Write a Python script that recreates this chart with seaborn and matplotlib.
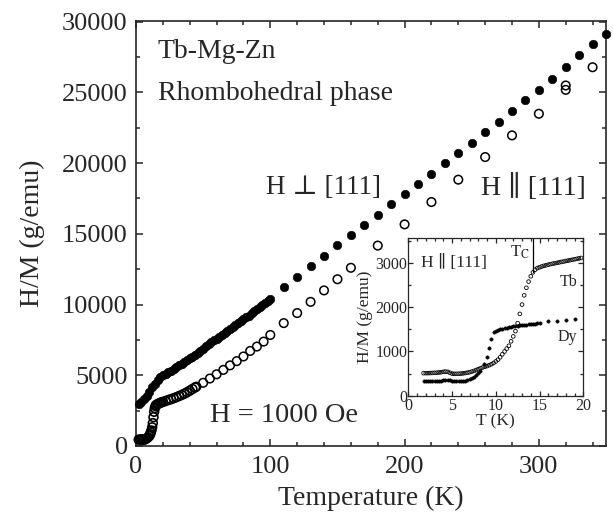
import matplotlib
matplotlib.use("Agg")
import matplotlib.pyplot as plt
import matplotlib.transforms as mtransforms
import seaborn as sns
import pandas as pd
from matplotlib.ticker import MultipleLocator

# ---------------- data ----------------
# H perpendicular [111] (filled circles), dense low-T part
T_perp_dense = [2, 4, 6, 8, 10, 12, 14, 16, 18, 20, 22, 24, 26, 28, 30, 32, 34, 36, 38, 40,
                42, 44, 46, 48, 50, 52, 54, 56, 58, 60, 62, 64, 66, 68, 70, 72, 74, 76, 78, 80,
                82, 84, 86, 88, 90, 92, 94, 96, 98, 100]
HM_perp_dense = [3000, 3100, 3300, 3550, 3850, 4150, 4400, 4650, 4850, 5000, 5100, 5210, 5330,
                 5450, 5580, 5710, 5830, 5950, 6080, 6200, 6320, 6450, 6580, 6730, 6880, 7040,
                 7200, 7330, 7460, 7590, 7710, 7850, 7990, 8120, 8260, 8400, 8550, 8700, 8830,
                 8960, 9090, 9220, 9370, 9530, 9680, 9830, 9980, 10120, 10270, 10420]
T_perp_sparse = [110, 120, 130, 140, 150, 160, 170, 180, 190, 200, 210, 220, 230, 240, 250,
                 260, 270, 280, 290, 300, 310, 320, 330, 340, 350]
HM_perp_sparse = [11260, 11950, 12700, 13420, 14180, 14930, 15650, 16360, 17080, 17840, 18530,
                  19250, 19990, 20700, 21420, 22190, 22900, 23650, 24430, 25180, 25960, 26780,
                  27650, 28430, 29140]

# H parallel [111] (open circles)
T_par_dense = [2, 3, 4, 5, 6, 7, 8, 9, 10, 10.5, 11, 11.5, 12, 12.5, 13, 13.5, 14, 14.5, 15,
               16, 17, 18, 19, 20, 22, 24, 26, 28, 30, 32, 34, 36, 38, 40, 42, 44]
HM_par_dense = [450, 450, 470, 450, 450, 480, 540, 620, 720, 830, 960, 1100, 1320, 1620, 2040,
                2420, 2680, 2830, 2900, 2960, 3000, 3050, 3090, 3120, 3180, 3250, 3310, 3380,
                3450, 3530, 3610, 3700, 3800, 3910, 4030, 4140]
T_par_sparse = [45, 50, 55, 60, 65, 70, 75, 80, 85, 90, 95, 100, 110, 120, 130, 140, 150, 160,
                180, 200, 220, 240, 260, 280, 300, 320, 320, 340]
HM_par_sparse = [4200, 4470, 4770, 5070, 5380, 5700, 6000, 6330, 6720, 7030, 7380, 7850, 8690,
                 9400, 10190, 11000, 11790, 12600, 14170, 15670, 17250, 18830, 20430, 21960,
                 23490, 25180, 25490, 26780]

# inset: Tb (open) and Dy (filled), H || [111]
T_Tb = [1.75, 2.0, 2.25, 2.5, 2.75, 3.0, 3.25, 3.5, 3.75, 4.0, 4.25, 4.5, 4.75, 5.0, 5.25, 5.5,
        5.75, 6.0, 6.25, 6.5, 6.75, 7.0, 7.25, 7.5, 7.75, 8.0, 8.25, 8.5, 8.75, 9.0, 9.25, 9.5,
        9.75, 10.0, 10.25, 10.5, 10.75, 11.0, 11.25, 11.5, 11.75, 12.0, 12.25, 12.5, 12.75, 13.0,
        13.25, 13.5, 13.75, 14.0, 14.25, 14.5, 14.75, 15.0, 15.25, 15.5, 15.75, 16.0, 16.25,
        16.5, 16.75, 17.0, 17.25, 17.5, 17.75, 18.0, 18.25, 18.5, 18.75, 19.0, 19.25, 19.5, 19.75]
HM_Tb = [510, 510, 510, 512, 515, 518, 520, 525, 530, 540, 545, 540, 520, 500, 495, 495, 497,
         500, 505, 512, 520, 530, 545, 560, 580, 600, 620, 638, 655, 670, 690, 712, 740, 775,
         815, 870, 935, 1000, 1065, 1130, 1230, 1340, 1460, 1640, 1850, 2060, 2270, 2440, 2580,
         2700, 2790, 2850, 2885, 2905, 2922, 2937, 2950, 2963, 2975, 2985, 2995, 3005, 3015,
         3025, 3035, 3045, 3055, 3065, 3075, 3085, 3095, 3105, 3115]
T_Dy = [1.75, 2.0, 2.25, 2.5, 2.75, 3.0, 3.25, 3.5, 3.75, 4.0, 4.25, 4.5, 4.75, 5.0, 5.25, 5.5,
        5.75, 6.0, 6.25, 6.5, 6.75, 7.0, 7.25, 7.5, 7.75, 8.0, 8.25, 8.6, 9.0, 9.25, 9.45, 9.75,
        10.0, 10.25, 10.5, 10.75, 11.0, 11.25, 11.5, 11.75, 12.0, 12.25, 12.5, 12.75, 13.0,
        13.25, 13.5, 13.75, 14.0, 14.25, 14.5, 14.75, 15.0, 16.0, 17.05, 18.05, 19.0]
HM_Dy = [340, 338, 336, 335, 335, 336, 338, 340, 342, 345, 348, 350, 345, 335, 330, 330, 332,
         335, 338, 342, 350, 368, 395, 430, 470, 510, 560, 710, 885, 1075, 1280, 1440, 1460,
         1480, 1500, 1513, 1525, 1537, 1548, 1557, 1565, 1573, 1580, 1589, 1598, 1604, 1610,
         1616, 1622, 1627, 1632, 1637, 1642, 1680, 1700, 1717, 1733]

# ---------------- style ----------------
sns.set_style("ticks")
plt.rcParams["font.family"] = ["Liberation Serif", "DejaVu Serif"]
plt.rcParams["mathtext.fontset"] = "stix"
plt.rcParams["axes.linewidth"] = 1.2

fig = plt.figure(figsize=(6.13, 5.18), dpi=100)
ax = fig.add_axes([0.2219, 0.139, 0.7667, 0.8205])

perp = pd.DataFrame({"T": T_perp_dense + T_perp_sparse, "HM": HM_perp_dense + HM_perp_sparse})
par_d = pd.DataFrame({"T": T_par_dense, "HM": HM_par_dense})
par_s = pd.DataFrame({"T": T_par_sparse, "HM": HM_par_sparse})

sns.scatterplot(data=par_d, x="T", y="HM", ax=ax, marker="o", s=40,
                facecolors="none", edgecolor="black", linewidth=1.2, zorder=3, clip_on=False)
sns.scatterplot(data=par_s, x="T", y="HM", ax=ax, marker="o", s=38,
                facecolors="none", edgecolor="black", linewidth=1.1, zorder=3)
sns.scatterplot(data=perp, x="T", y="HM", ax=ax, marker="o", s=38,
                color="black", edgecolor="black", linewidth=0.4, zorder=4, clip_on=False)

ax.set_xlim(0, 350)
ax.set_ylim(0, 30050)
ax.xaxis.set_major_locator(MultipleLocator(100))
ax.xaxis.set_minor_locator(MultipleLocator(20))
ax.yaxis.set_major_locator(MultipleLocator(5000))
ax.yaxis.set_minor_locator(MultipleLocator(2500))
ax.tick_params(which="both", direction="in", top=True, right=True, labelsize=19, width=1.1)
ax.tick_params(which="major", length=5)
ax.tick_params(which="minor", length=3)
ax.tick_params(axis="x", pad=7)
ax.tick_params(axis="y", pad=6)
ax.set_xlabel("Temperature (K)", fontsize=20, labelpad=6)
ax.set_ylabel("H/M (g/emu)", fontsize=20, labelpad=12)

ax.text(16, 27900, "Tb-Mg-Zn", fontsize=20, va="center", ha="left")
ax.text(16, 24900, "Rhombohedral phase", fontsize=20, va="center", ha="left")
ax.text(97, 18300, "H \u22a5 [111]", fontsize=19.5, va="center", ha="left")
ax.text(257, 18300, "H \u2225 [111]", fontsize=20, va="center", ha="left")
ax.text(55, 2150, "H = 1000 Oe", fontsize=20.5, va="center", ha="left")

# ---------------- inset ----------------
axin = fig.add_axes([0.666, 0.2361, 0.2855, 0.3039])
axin.set_facecolor("white")
tb = pd.DataFrame({"T": T_Tb, "HM": HM_Tb})
dy = pd.DataFrame({"T": T_Dy, "HM": HM_Dy})
sns.scatterplot(data=tb, x="T", y="HM", ax=axin, marker="o", s=7,
                facecolors="none", edgecolor="black", linewidth=0.6)
sns.scatterplot(data=dy, x="T", y="HM", ax=axin, marker="o", s=6,
                color="black", edgecolor="black", linewidth=0.3)
axin.set_xlim(0, 20)
axin.set_ylim(0, 3560)
axin.xaxis.set_major_locator(MultipleLocator(5))
axin.xaxis.set_minor_locator(MultipleLocator(1))
axin.yaxis.set_major_locator(MultipleLocator(1000))
axin.yaxis.set_minor_locator(MultipleLocator(500))
axin.tick_params(which="both", direction="in", top=True, right=True, labelsize=11.5, width=0.9)
axin.tick_params(which="major", length=3.5)
axin.tick_params(which="minor", length=2)
axin.tick_params(axis="x", pad=1.5)
axin.tick_params(axis="y", pad=0.5)
for sp in axin.spines.values():
    sp.set_linewidth(0.9)
axin.set_xlabel("T (K)", fontsize=12.5, labelpad=0)
axin.set_ylabel("H/M (g/emu)", fontsize=12.5, labelpad=2)

axin.text(1.5, 3000, "H \u2225 [111]", fontsize=12.5, va="center", ha="left")
axin.text(17.3, 2560, "Tb", fontsize=11.5, va="center", ha="left")
axin.text(17.1, 1330, "Dy", fontsize=11.5, va="center", ha="left")
axin.text(13.9, 3250, r"T$_\mathrm{C}$", fontsize=12, va="center", ha="right")
axin.plot([14.2, 14.2], [2800, 3560], color="black", linewidth=0.9)

# nudge the two "0" labels at the inset origin apart, as in the reference
fig.canvas.draw()
xt0 = axin.xaxis.get_major_ticks()[0].label1
xt0.set_transform(xt0.get_transform() + mtransforms.ScaledTranslation(3 / 72, -1 / 72, fig.dpi_scale_trans))
yt0 = axin.yaxis.get_major_ticks()[0].label1
yt0.set_transform(yt0.get_transform() + mtransforms.ScaledTranslation(-1 / 72, 4 / 72, fig.dpi_scale_trans))

fig.savefig("out.png", dpi=100)
